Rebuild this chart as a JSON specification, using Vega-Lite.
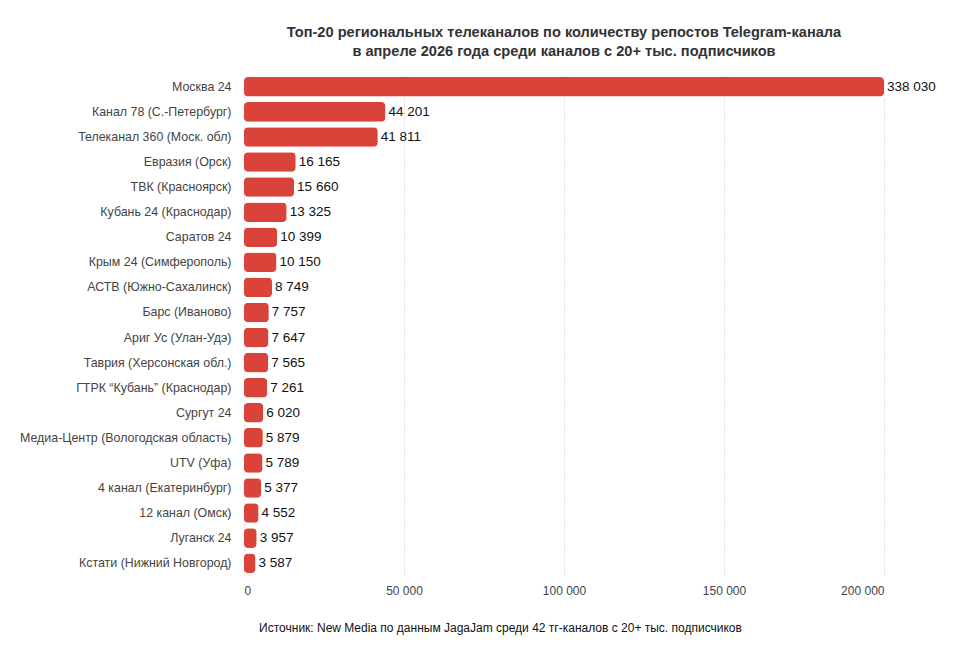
{
  "$schema": "https://vega.github.io/schema/vega-lite/v6.json",
  "width": 640,
  "height": 500,
  "autosize": {"type": "none"},
  "padding": {"left": 244, "top": 75, "right": 76, "bottom": 94},
  "background": "white",
  "config": {
    "locale": {"number": {"decimal": ",", "thousands": " ", "grouping": [3], "currency": ["", " ₽"]}},
    "view": {"stroke": null},
    "font": "Liberation Sans"
  },
  "title": {
    "text": ["Топ-20 региональных телеканалов по количеству репостов Telegram-канала", "в апреле 2026 года среди каналов с 20+ тыс. подписчиков"],
    "anchor": "middle",
    "frame": "group",
    "fontSize": 14.6,
    "fontWeight": "bold",
    "color": "#333333",
    "lineHeight": 19,
    "offset": 16,
    "font": "Liberation Sans"
  },
  "data": {
    "values": [
      {"channel": "Москва 24", "reposts": 338030},
      {"channel": "Канал 78 (С.-Петербург)", "reposts": 44201},
      {"channel": "Телеканал 360 (Моск. обл)", "reposts": 41811},
      {"channel": "Евразия (Орск)", "reposts": 16165},
      {"channel": "ТВК (Красноярск)", "reposts": 15660},
      {"channel": "Кубань 24 (Краснодар)", "reposts": 13325},
      {"channel": "Саратов 24", "reposts": 10399},
      {"channel": "Крым 24 (Симферополь)", "reposts": 10150},
      {"channel": "АСТВ (Южно-Сахалинск)", "reposts": 8749},
      {"channel": "Барс (Иваново)", "reposts": 7757},
      {"channel": "Ариг Ус (Улан-Удэ)", "reposts": 7647},
      {"channel": "Таврия (Херсонская обл.)", "reposts": 7565},
      {"channel": "ГТРК “Кубань” (Краснодар)", "reposts": 7261},
      {"channel": "Сургут 24", "reposts": 6020},
      {"channel": "Медиа-Центр (Вологодская область)", "reposts": 5879},
      {"channel": "UTV (Уфа)", "reposts": 5789},
      {"channel": "4 канал (Екатеринбург)", "reposts": 5377},
      {"channel": "12 канал (Омск)", "reposts": 4552},
      {"channel": "Луганск 24", "reposts": 3957},
      {"channel": "Кстати (Нижний Новгород)", "reposts": 3587}
    ]
  },
  "encoding": {
    "y": {
      "field": "channel",
      "type": "nominal",
      "sort": null,
      "scale": {"paddingInner": 0.22, "paddingOuter": 0.08},
      "axis": {
        "title": null,
        "ticks": false,
        "domain": false,
        "labelPadding": 13,
        "labelFontSize": 12.4,
        "labelColor": "#444444",
        "labelFont": "Liberation Sans",
        "labelLimit": 300
      }
    },
    "x": {
      "field": "reposts",
      "type": "quantitative",
      "scale": {"domain": [0, 200000], "clamp": true, "nice": false},
      "axis": {
        "title": "Источник: New Media по данным JagaJam среди 42 тг-каналов с 20+ тыс. подписчиков",
        "titleFontSize": 12,
        "titleFontWeight": "normal",
        "titleColor": "#111111",
        "titleFont": "Liberation Sans",
        "titleX": 256,
        "titleY": 47,
        "titleAlign": "center",
        "values": [0, 50000, 100000, 150000, 200000],
        "format": ",d",
        "ticks": false,
        "domain": false,
        "labelPadding": 10,
        "labelFontSize": 12,
        "labelColor": "#444444",
        "labelFont": "Liberation Sans",
        "grid": true,
        "gridColor": "#c8c8c8",
        "gridDash": [1, 2],
        "gridWidth": 1
      }
    }
  },
  "layer": [
    {
      "mark": {"type": "bar", "color": "#d9433a", "cornerRadius": 4},
      "encoding": {}
    },
    {
      "mark": {"type": "text", "align": "left", "baseline": "middle", "dx": 3, "fontSize": 13.5, "color": "#111111", "font": "Liberation Sans"},
      "encoding": {
        "text": {"field": "reposts", "type": "quantitative", "format": ",d"}
      }
    }
  ]
}
